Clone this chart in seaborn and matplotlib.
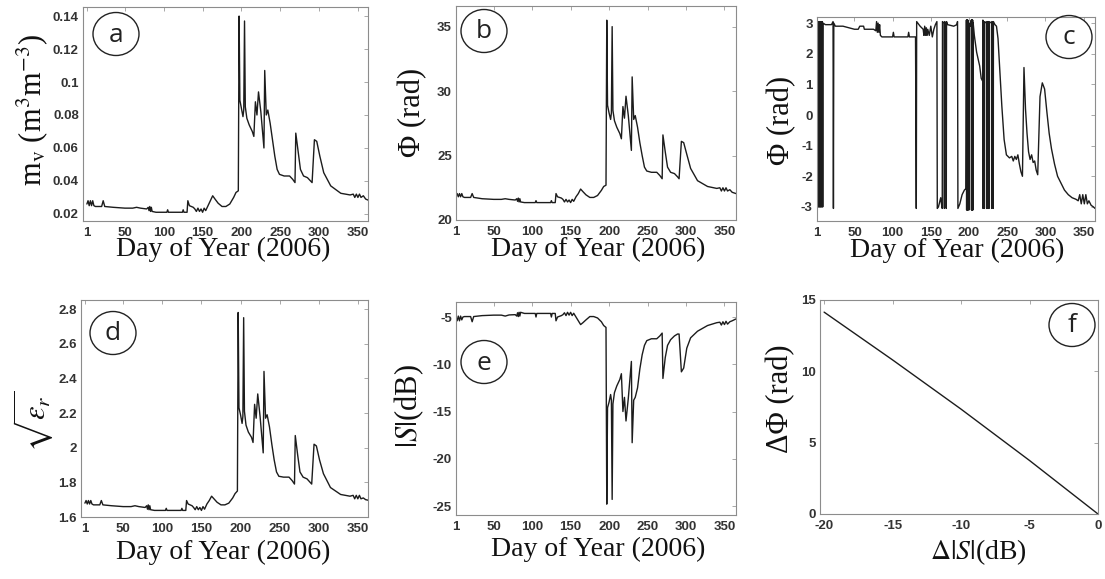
import matplotlib
matplotlib.use("Agg")
import matplotlib.pyplot as plt
import seaborn as sns
from matplotlib.patches import Ellipse

# ---------------- data ----------------
DAY = [1, 2.5, 4, 5.5, 7, 8.5, 10, 12, 20, 22,
       24, 35, 50, 60, 65, 70, 78, 80, 81, 82,
       83, 84, 85, 90, 104, 105, 106, 124, 125, 126,
       130, 131, 133, 138, 140, 142, 144, 146, 148, 150,
       152, 154, 157, 160, 163, 166, 170, 175, 180, 185,
       190, 193, 196, 197, 198, 200, 202, 203, 204, 205,
       207, 210, 214, 216, 218, 220, 222, 225, 229, 230,
       232, 234, 237, 240, 243, 246, 249, 255, 262, 266,
       269, 270, 273, 276, 280, 285, 289, 291, 294, 297,
       301, 306, 315, 328, 340, 344, 346, 348, 350, 352,
       354, 357, 360, 365]

MV = [.026, .028, .025, .028, .025, .028, .025, .0245, .0245, .028,
      .0245, .024, .0235, .0235, .024, .0235, .023, .024, .022, .0245,
      .0215, .024, .0215, .021, .021, .0225, .021, .021, .0225, .021,
      .021, .028, .025, .024, .023, .0215, .0235, .0215, .023, .021,
      .0235, .022, .025, .028, .031, .029, .0265, .0245, .0245, .026,
      .030, .033, .034, .140, .089, .084, .079, .083, .137, .085,
      .078, .074, .070, .067, .088, .080, .094, .082, .060, .107,
      .080, .083, .075, .065, .055, .047, .044, .043, .043, .041,
      .039, .069, .058, .047, .043, .042, .040, .039, .065, .064,
      .055, .045, .037, .0325, .0315, .032, .030, .032, .030, .032,
      .030, .031, .029, .028]

PHI = [21.85, 22.05, 21.8, 22.05, 21.8, 22.05, 21.8, 21.75, 21.75, 22.05,
       21.75, 21.65, 21.6, 21.6, 21.65, 21.6, 21.55, 21.65, 21.45, 21.7,
       21.4, 21.65, 21.4, 21.35, 21.35, 21.5, 21.35, 21.35, 21.5, 21.35,
       21.35, 22.05, 21.8, 21.7, 21.6, 21.4, 21.6, 21.4, 21.55, 21.35,
       21.6, 21.45, 21.8, 22.05, 22.4, 22.2, 21.95, 21.75, 21.75, 21.9,
       22.3, 22.6, 22.7, 35.5, 28.9, 28.3, 27.8, 28.3, 35.0, 28.5,
       27.7, 27.2, 26.7, 26.3, 28.8, 27.9, 29.6, 28.1, 25.4, 31.1,
       27.8, 28.1, 27.2, 26.0, 25.0, 24.1, 23.8, 23.7, 23.7, 23.45,
       23.2, 26.6, 25.3, 24.1, 23.7, 23.6, 23.35, 23.2, 26.1, 26.0,
       25.1, 24.0, 23.05, 22.6, 22.45, 22.5, 22.25, 22.5, 22.25, 22.5,
       22.25, 22.35, 22.15, 22.05]

SQRT_EPS = [1.68, 1.695, 1.675, 1.695, 1.675, 1.695, 1.675, 1.67, 1.67, 1.695,
            1.67, 1.665, 1.66, 1.66, 1.665, 1.66, 1.655, 1.665, 1.645, 1.67,
            1.642, 1.665, 1.642, 1.638, 1.638, 1.65, 1.638, 1.638, 1.65, 1.638,
            1.638, 1.695, 1.675, 1.665, 1.655, 1.642, 1.66, 1.642, 1.655, 1.638,
            1.66, 1.645, 1.675, 1.695, 1.72, 1.705, 1.685, 1.67, 1.67, 1.68,
            1.71, 1.735, 1.75, 2.78, 2.23, 2.19, 2.14, 2.18, 2.75, 2.21,
            2.13, 2.09, 2.06, 2.03, 2.25, 2.17, 2.31, 2.18, 1.97, 2.44,
            2.17, 2.19, 2.12, 2.02, 1.93, 1.86, 1.835, 1.83, 1.83, 1.81,
            1.79, 2.07, 1.96, 1.86, 1.83, 1.82, 1.80, 1.79, 2.02, 2.01,
            1.93, 1.85, 1.77, 1.73, 1.72, 1.725, 1.705, 1.725, 1.705, 1.725,
            1.705, 1.71, 1.70, 1.695]

S_DB = [-5.0, -5.4, -4.9, -5.4, -4.9, -5.3, -5.0, -4.95, -4.95, -5.5,
        -4.95, -4.85, -4.8, -4.8, -4.9, -4.78, -4.75, -4.9, -4.55, -4.95,
        -4.5, -4.9, -4.5, -4.62, -4.62, -5.0, -4.62, -4.62, -5.0, -4.62,
        -4.62, -5.4, -5.0, -4.85, -4.75, -4.55, -4.85, -4.5, -4.8, -4.5,
        -4.85, -4.6, -5.0, -5.4, -5.8, -5.6, -5.3, -4.95, -4.95, -5.1,
        -5.5, -5.9, -6.1, -24.8, -14.6, -14.0, -13.2, -13.8, -24.3, -14.2,
        -13.0, -12.3, -11.6, -11.0, -15.0, -13.5, -16.0, -13.6, -9.7, -18.3,
        -13.8, -13.5, -12.5, -10.5, -9.0, -8.0, -7.5, -7.3, -7.3, -7.0,
        -6.7, -11.5, -9.3, -8.0, -7.4, -7.0, -6.8, -6.8, -10.8, -10.4,
        -8.3, -7.2, -6.5, -5.9, -5.6, -5.55, -5.85, -5.5, -5.8, -5.45,
        -5.75, -5.5, -5.4, -5.2]

C_DAY = [1.0, 1.5, 2.0, 2.5, 3.0, 3.5, 4.0, 4.5, 5.0, 5.5,
         6.0, 6.5, 7.0, 7.5, 8.0, 8.5, 9.0, 12, 20, 22,
         22.5, 23, 25, 35, 50, 55, 57, 62, 63, 75,
         78, 79, 80, 81, 82, 83, 84, 86, 100, 101,
         102, 120, 121, 122, 130, 131, 131.5, 133, 136, 140,
         141, 142, 143, 144, 145, 146, 148, 150, 152, 154,
         156, 158, 158.5, 160, 162, 163, 164, 165, 165.3, 167.5,
         167.8, 168.1, 170, 170.3, 170.6, 172, 180, 184, 185, 185.5,
         188, 191, 194, 196, 196.6, 196.9, 197.2, 197.5, 197.8, 198.1,
         198.5, 199, 199.5, 200, 200.5, 202, 203, 203.3, 203.6, 203.9,
         204.2, 204.5, 204.8, 205.2, 205.5, 207, 210, 214, 216, 218,
         218.2, 218.4, 218.6, 220, 220.2, 220.4, 223, 223.2, 223.4, 224.5,
         224.7, 224.9, 226, 226.2, 226.4, 229.5, 229.7, 229.9, 231.6, 231.8,
         232, 234, 236, 238, 240,
         243, 246, 249, 253, 256, 258, 260, 262, 264, 266,
         268, 270, 272, 274, 276, 278, 280, 282, 284, 286,
         288, 290, 293, 296, 299, 302, 305, 308, 312, 316,
         320, 325, 330, 335, 340, 343, 345, 347, 349, 351,
         353, 355, 357, 360, 363, 365]

C_PHI = [3.05, -3.0, 3.05, -3.0, 3.05, -3.0, 3.05, -3.0, 3.05, -3.0,
         3.05, -3.0, 3.05, -3.0, 3.05, -3.0, 3.0, 2.95, 2.95, 3.05,
         -3.05, 3.0, 2.9, 2.9, 2.8, 2.8, 2.9, 2.9, 2.8, 2.8,
         2.75, 3.05, 2.7, 3.0, 2.7, 2.95, 2.6, 2.55, 2.55, 2.7,
         2.55, 2.55, 2.7, 2.55, 2.55, -3.05, 3.05, 3.0, 2.9, 2.8,
         2.6, 2.9, 2.6, 2.85, 2.6, 2.8, 2.6, 2.9, 2.55, 2.8,
         2.95, 3.05, -3.05, -3.0, -2.8, -2.7, -2.9, -3.05, 3.05, 3.0,
         -3.05, 3.05, 3.0, -3.05, 3.05, 2.95, 2.9, 2.95, 3.05, -3.05,
         -2.9, -2.6, -2.45, -2.4, 3.1, -3.1, 3.1, -3.1, 3.1, -3.1,
         3.1, -3.1, 3.0, -3.1, 3.0, 2.9, 3.1, -3.1, 3.1, -3.1,
         3.1, -3.1, 3.1, -3.1, 3.0, 2.6, 2.05, 1.6, 1.2, 1.1,
         3.1, -3.05, 3.05, 2.9, -3.05, 3.05, 3.0, -3.05, 3.05, 3.0,
         -3.05, 3.05, 3.0, -3.05, 3.05, 3.0, -3.05, 3.05, 3.0, -3.05,
         3.05, 2.95, 2.9, 2.5, 1.6,
         0.3, -0.8, -1.3, -1.4, -1.35, -1.5, -1.35, -1.45, -1.3, -1.6,
         -1.85, -2.0, 1.55, 0.2, -0.6, -1.2, -1.45, -1.3, -1.55, -1.5,
         -1.8, -1.95, 0.6, 1.05, 0.85, 0.1, -0.6, -1.1, -1.6, -2.0,
         -2.2, -2.45, -2.6, -2.7, -2.75, -2.8, -2.6, -2.9, -2.6, -2.9,
         -2.6, -2.9, -2.8, -2.95, -3.0, -3.05]

DS_DB = [-20, -15, -10, -5, 0]
DPHI = [14.15, 10.8, 7.35, 3.75, 0.0]

DAY_TICKS = [1, 50, 100, 150, 200, 250, 300, 350]
A_TICKS = [0.02, 0.04, 0.06, 0.08, 0.1, 0.12, 0.14]
A_LABELS = ["0.02", "0.04", "0.06", "0.08", "0.1", "0.12", "0.14"]
B_TICKS = [20, 25, 30, 35]
C_TICKS = [-3, -2, -1, 0, 1, 2, 3]
D_TICKS = [1.6, 1.8, 2.0, 2.2, 2.4, 2.6, 2.8]
D_LABELS = ["1.6", "1.8", "2", "2.2", "2.4", "2.6", "2.8"]
E_TICKS = [-25, -20, -15, -10, -5]
F_XTICKS = [-20, -15, -10, -5, 0]
F_YTICKS = [0, 5, 10, 15]

PANEL_LETTERS = ["a", "b", "c", "d", "e", "f"]
XLABEL_DAY = "Day of Year (2006)"

# ---------------- style ----------------
sns.set_style("white")
plt.rcParams["mathtext.fontset"] = "stix"
plt.rcParams["font.family"] = ["Liberation Serif", "DejaVu Serif"]

W, H = 1105, 579
fig = plt.figure(figsize=(W / 100, H / 100), dpi=100)
LINE = "#1c1c1c"
FRAME = "#8c8c8c"
TICKC = "#333333"


def add_ax(l, t, r, b):
    return fig.add_axes([l / W, 1 - b / H, (r - l) / W, (b - t) / H])


def style(ax, xt, xl, yt, yl, xlim, ylim):
    ax.set_xlim(*xlim)
    ax.set_ylim(*ylim)
    ax.set_xticks(xt)
    ax.set_xticklabels(xl, fontfamily="Liberation Sans", fontweight="bold",
                       fontsize=9.5, color=TICKC)
    ax.set_yticks(yt)
    ax.set_yticklabels(yl, fontfamily="Liberation Sans", fontweight="bold",
                       fontsize=9.5, color=TICKC)
    ax.tick_params(direction="in", top=True, right=True, length=3, width=0.6,
                   color="#9a9a9a")
    ax.tick_params(axis="x", pad=4)
    ax.tick_params(axis="y", pad=3)
    for s in ax.spines.values():
        s.set_color(FRAME)
        s.set_linewidth(0.8)


def labels(ax, xlabel, xpos, ylabel, ypos, xsize=20, ysize=22):
    ax.set_xlabel(xlabel, fontsize=xsize, color="#111111")
    ax.xaxis.set_label_coords(xpos[0] / W, 1 - xpos[1] / H, transform=fig.transFigure)
    ax.xaxis.label.set_va("center")
    ax.set_ylabel(ylabel, fontsize=ysize, color="#111111")
    ax.yaxis.set_label_coords(ypos[0] / W, 1 - ypos[1] / H, transform=fig.transFigure)
    ax.yaxis.label.set_va("center")


def badge(cx, cy, letter):
    e = Ellipse((cx / W, 1 - cy / H), 46 / W, 43 / H, transform=fig.transFigure,
                fill=False, ec="#222222", lw=1.0)
    fig.add_artist(e)
    fig.text(cx / W, 1 - (cy + 1) / H, letter, ha="center", va="center",
             fontsize=19, fontfamily="Open Sans", color="#222222")


day_lbls = [str(t) for t in DAY_TICKS]
kw = dict(estimator=None, sort=False, color=LINE, linewidth=1.0)

# (a)
ax = add_ax(83, 7, 368, 221)
sns.lineplot(x=DAY, y=MV, ax=ax, **kw)
style(ax, DAY_TICKS, day_lbls, A_TICKS, A_LABELS, (-4, 363), (0.0157, 0.1455))
labels(ax, XLABEL_DAY, (223, 249), r"m$_\mathrm{v}$ (m$^\mathrm{3}$m$^\mathrm{-3}$)", (32, 110))
badge(116, 34, PANEL_LETTERS[0])

# (b)
ax = add_ax(456, 6, 736, 220)
sns.lineplot(x=DAY, y=PHI, ax=ax, **kw)
style(ax, DAY_TICKS, day_lbls, B_TICKS, [str(t) for t in B_TICKS], (1, 365), (20, 36.6))
labels(ax, XLABEL_DAY, (598, 249), "Φ (rad)", (413, 112))
badge(484, 31, PANEL_LETTERS[1])

# (c)
ax = add_ax(817, 17, 1095, 221)
sns.lineplot(x=C_DAY, y=C_PHI, ax=ax, **kw)
style(ax, DAY_TICKS, day_lbls, C_TICKS, [str(t) for t in C_TICKS], (1, 365), (-3.46, 3.2))
labels(ax, XLABEL_DAY, (957, 250), "Φ (rad)", (782, 120))
badge(1069, 37, PANEL_LETTERS[2])

# (d)
ax = add_ax(81, 300, 368, 517)
sns.lineplot(x=DAY, y=SQRT_EPS, ax=ax, **kw)
style(ax, DAY_TICKS, day_lbls, D_TICKS, D_LABELS, (-4, 363), (1.6, 2.852))
labels(ax, XLABEL_DAY, (223, 552), r"$\sqrt{\varepsilon_r}$", (33, 421))
badge(113, 333, PANEL_LETTERS[3])

# (e)
ax = add_ax(456, 302, 736, 515)
sns.lineplot(x=DAY, y=S_DB, ax=ax, **kw)
style(ax, DAY_TICKS, day_lbls, E_TICKS, [str(t) for t in E_TICKS], (1, 365), (-25.95, -3.41))
labels(ax, XLABEL_DAY, (598, 549), r"$|S|$(dB)", (409, 406))
badge(484, 362, PANEL_LETTERS[4])

# (f)
ax = add_ax(820, 300, 1098, 514)
sns.lineplot(x=DS_DB, y=DPHI, ax=ax, **kw)
style(ax, F_XTICKS, [str(t) for t in F_XTICKS], F_YTICKS, [str(t) for t in F_YTICKS],
      (-20.3, 0), (0, 15))
labels(ax, r"$\Delta|S|$(dB)", (978, 552), "ΔΦ (rad)", (781, 399))
badge(1072, 325, PANEL_LETTERS[5])

fig.savefig("out.png", dpi=100)
